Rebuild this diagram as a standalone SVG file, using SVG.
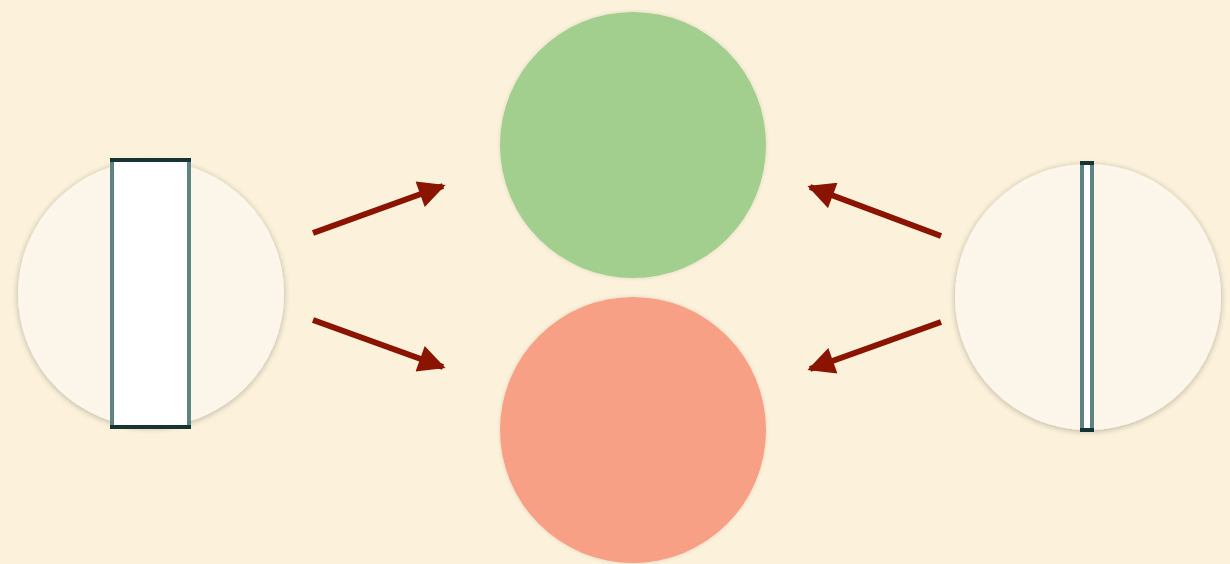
<svg xmlns="http://www.w3.org/2000/svg" width="1230" height="564" viewBox="0 0 1230 564">
<style>
.lens{fill:#fef8ee;fill-opacity:0.92;filter:url(#sh)}
.ball{filter:url(#sh2)}
.conn{stroke:#8a1400;stroke-width:6;fill:none;marker-end:url(#ah)}
.frame{fill:#fff;stroke:#5c8485;stroke-width:4}
.cap{stroke:#163434;stroke-width:4}
</style>
<defs>
<filter id="sh" x="-20%" y="-20%" width="140%" height="140%"><feGaussianBlur in="SourceAlpha" stdDeviation="3"/><feOffset dy="1"/><feComponentTransfer><feFuncA type="linear" slope="0.3"/></feComponentTransfer><feMerge><feMergeNode/><feMergeNode in="SourceGraphic"/></feMerge></filter>
<filter id="sh2" x="-20%" y="-20%" width="140%" height="140%"><feGaussianBlur in="SourceAlpha" stdDeviation="2"/><feComponentTransfer><feFuncA type="linear" slope="0.12"/></feComponentTransfer><feMerge><feMergeNode/><feMergeNode in="SourceGraphic"/></feMerge></filter>
<marker id="ah" viewBox="0 0 10 10" refX="9" refY="5" markerWidth="5" markerHeight="4.5" orient="auto" markerUnits="strokeWidth"><path d="M0,0 L10,5 L0,10 Z" fill="#8a1400"/></marker>
</defs>
<rect width="1230" height="564" fill="#fcf1da"/>
<g id="left-lens">
<circle class="lens" cx="151" cy="294" r="133"/>
<rect class="frame" x="112" y="160" width="77" height="267"/>
<line class="cap" x1="110" y1="160" x2="191" y2="160"/>
<line class="cap" x1="110" y1="427" x2="191" y2="427"/>
</g>
<g id="right-lens">
<circle class="lens" cx="1088" cy="297" r="133"/>
<rect class="frame" x="1082" y="163" width="10" height="267"/>
<line class="cap" x1="1080" y1="163" x2="1094" y2="163"/>
<line class="cap" x1="1080" y1="430" x2="1094" y2="430"/>
</g>
<g id="green">
<circle class="ball" cx="633" cy="145" r="133" fill="#a2cf8e"/>
</g>
<g id="red">
<circle class="ball" cx="633" cy="430" r="133" fill="#f7a086"/>
</g>
<g id="connectors">
<line class="conn" x1="313" y1="233" x2="443" y2="186"/>
<line class="conn" x1="313" y1="320" x2="443" y2="367"/>
<line class="conn" x1="941" y1="236" x2="810" y2="187"/>
<line class="conn" x1="941" y1="322" x2="810" y2="369"/>
</g>
</svg>
